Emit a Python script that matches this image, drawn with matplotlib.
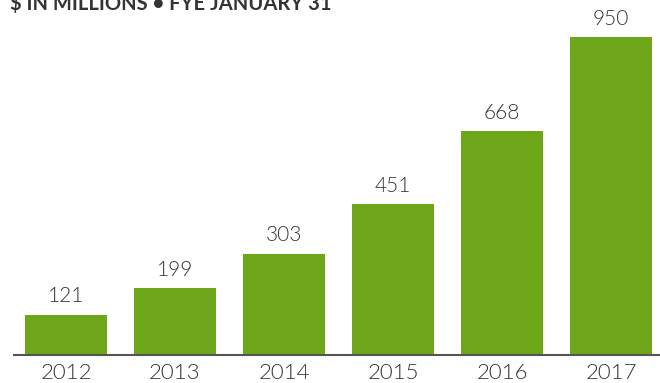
import numpy as np
import matplotlib
matplotlib.use("Agg")
import matplotlib.pyplot as plt

# data
years = ["2012", "2013", "2014", "2015", "2016", "2017"]
values = [121, 199, 303, 451, 668, 950]
title = "$ IN MILLIONS \u2022 FYE JANUARY 31"

green = "#6ea619"
dark = "#333333"

plt.rcParams['font.family'] = ['Lato', 'DejaVu Sans']

fig = plt.figure(figsize=(6.6, 3.83), dpi=100)
ax = fig.add_axes([14/660, 28/383, 646/660, 355/383])

x = np.arange(len(years))
ax.bar(x, values, width=0.752, color=green, zorder=2)
ax.set_xlim(-0.477, -0.477 + 646/109)
ax.set_ylim(0, 1061)

for xi, v in zip(x, values):
    ax.annotate(str(v), (xi, v), xytext=(0, 6), textcoords="offset points",
                ha="center", va="bottom", fontsize=15, fontweight=300, color=dark)

ax.set_xticks(x)
ax.set_xticklabels(years, fontsize=16, fontweight=300, color=dark)
ax.tick_params(axis="x", length=0, pad=6)
ax.set_yticks([])
for s in ["top", "right", "left"]:
    ax.spines[s].set_visible(False)
ax.spines["bottom"].set_color("#555555")
ax.spines["bottom"].set_linewidth(1.5)

fig.text(10/660, 1 - 10/383, title, fontsize=14.5, fontweight="bold", color=dark,
         ha="left", va="baseline")

fig.savefig("out.png", dpi=100)
